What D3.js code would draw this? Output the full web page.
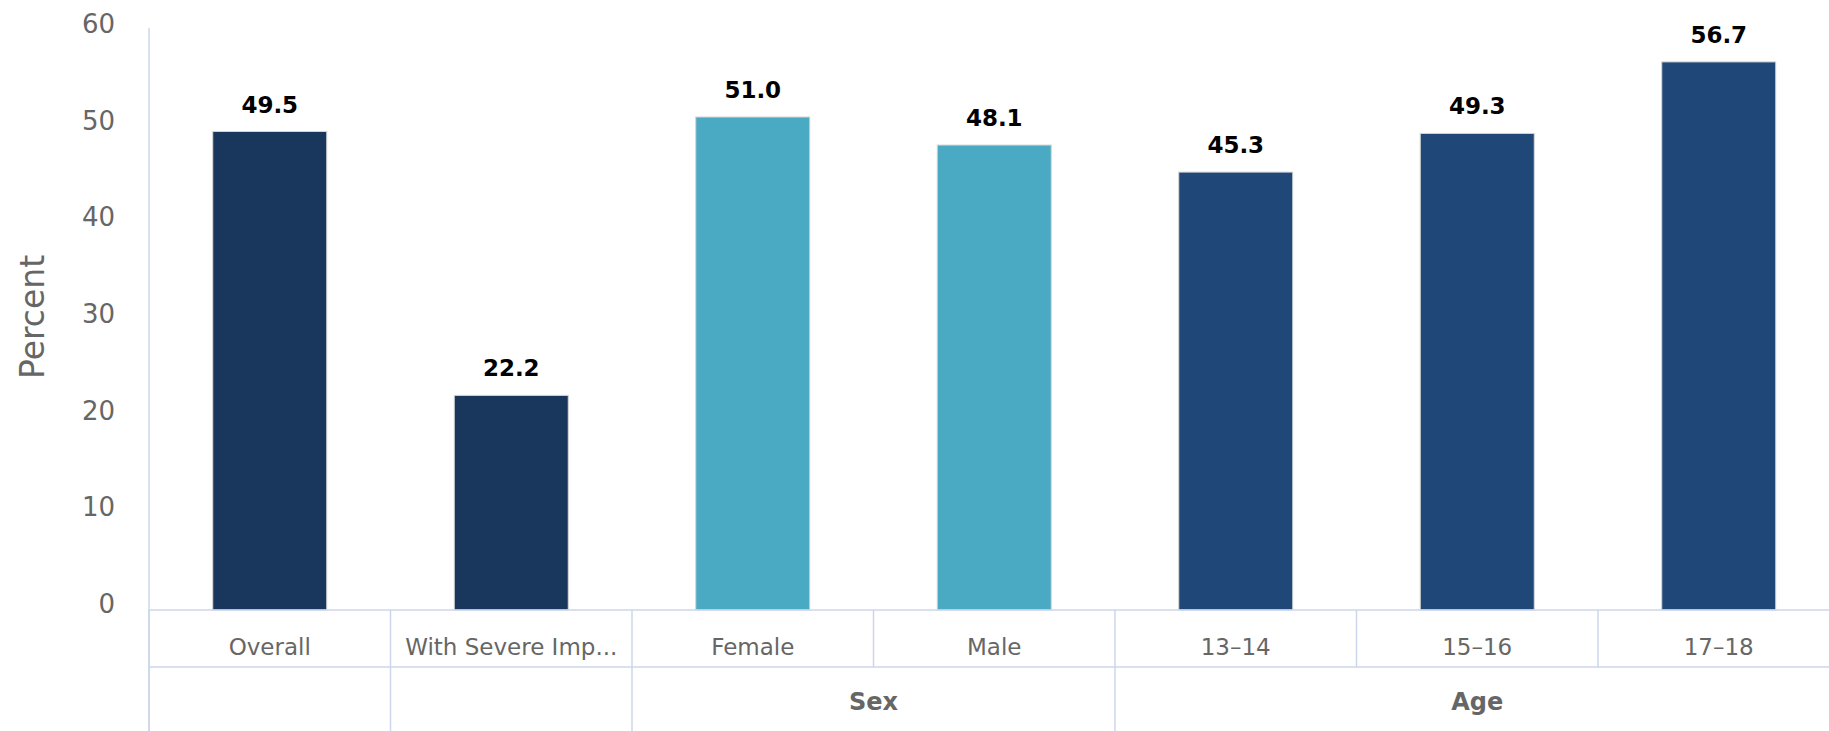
<!DOCTYPE html>
<html>
<head>
<meta charset="utf-8">
<script src="https://cdn.jsdelivr.net/npm/d3@7"></script>
<style>
  body { margin: 0; background: #fff; overflow: hidden; }
  text { font-family: "DejaVu Sans", sans-serif; }
</style>
</head>
<body>
<div class="chart"></div>
<script>
var width = 1829;
var height = 731;

var categories = ["Overall", "With Severe Imp...", "Female", "Male", "13\u201314", "15\u201316", "17\u201318"];
var values = [49.5, 22.2, 51.0, 48.1, 45.3, 49.3, 56.7];
var groupOf = ["", "", "Sex", "Sex", "Age", "Age", "Age"];
var groups = [
	{ name: "", from: 0, to: 0 },
	{ name: "", from: 1, to: 1 },
	{ name: "Sex", from: 2, to: 3 },
	{ name: "Age", from: 4, to: 6 }
];
var yTicks = [0, 10, 20, 30, 40, 50, 60];
var colors = { "": "#19375c", "Sex": "#4aaac4", "Age": "#1f4878" };

var left = 149;
var step = 241.5;
var baseY = 610;
var rowY = 667;
var gridColor = "#ccd6eb";

var svg = d3.select(".chart").append("svg").attr("width", width).attr("height", height);

var x = d3.scaleBand()
	.domain(d3.range(categories.length))
	.range([left, left + step * categories.length])
	.padding(0);

var y = d3.scaleLinear().domain([0, 60]).range([baseY, 30]);

var barWidth = x.bandwidth() * 0.472;

// y axis line and tick labels
svg.append("line")
	.attr("x1", left).attr("x2", left)
	.attr("y1", y(60) - 2).attr("y2", height)
	.attr("stroke", gridColor).attr("stroke-width", 1.5);

svg.selectAll(".ytick").data(yTicks).enter().append("text")
	.attr("class", "ytick")
	.attr("x", 115)
	.attr("y", function(d) { return y(d) + 3; })
	.attr("text-anchor", "end")
	.attr("font-size", 26)
	.attr("fill", "#666")
	.text(function(d) { return d; });

svg.append("text")
	.attr("transform", "translate(44,317) rotate(-90)")
	.attr("text-anchor", "middle")
	.attr("font-size", 33)
	.attr("fill", "#666")
	.text("Percent");

// bars
svg.selectAll(".bar").data(values).enter().append("rect")
	.attr("class", "bar")
	.attr("x", function(d, i) { return x(i) + (x.bandwidth() - barWidth) / 2; })
	.attr("y", function(d) { return y(d); })
	.attr("width", barWidth)
	.attr("height", function(d) { return y(0) - y(d); })
	.attr("fill", function(d, i) { return colors[groupOf[i]]; })
	.attr("stroke", "#d4d4d4")
	.attr("stroke-width", 1);

// data labels
svg.selectAll(".label").data(values).enter().append("text")
	.attr("class", "label")
	.attr("x", function(d, i) { return x(i) + x.bandwidth() / 2; })
	.attr("y", function(d) { return y(d) - 19; })
	.attr("text-anchor", "middle")
	.attr("font-size", 23)
	.attr("font-weight", "bold")
	.attr("fill", "#000")
	.text(function(d) { return d.toFixed(1); });

// category grid: horizontal lines
svg.append("line")
	.attr("x1", left).attr("x2", width)
	.attr("y1", baseY).attr("y2", baseY)
	.attr("stroke", gridColor).attr("stroke-width", 1.5);
svg.append("line")
	.attr("x1", left).attr("x2", width)
	.attr("y1", rowY).attr("y2", rowY)
	.attr("stroke", gridColor).attr("stroke-width", 1.5);

// first row cell borders
svg.selectAll(".cellline").data(d3.range(categories.length + 1)).enter().append("line")
	.attr("class", "cellline")
	.attr("x1", function(i) { return left + i * x.step(); })
	.attr("x2", function(i) { return left + i * x.step(); })
	.attr("y1", baseY).attr("y2", rowY)
	.attr("stroke", gridColor).attr("stroke-width", 1.5);

svg.selectAll(".cat").data(categories).enter().append("text")
	.attr("class", "cat")
	.attr("x", function(d, i) { return x(i) + x.bandwidth() / 2; })
	.attr("y", 655)
	.attr("text-anchor", "middle")
	.attr("font-size", 23)
	.attr("fill", "#666")
	.text(function(d) { return d; });

// group row
svg.selectAll(".groupline").data(groups.concat([{ from: categories.length }])).enter().append("line")
	.attr("class", "groupline")
	.attr("x1", function(g) { return left + g.from * x.step(); })
	.attr("x2", function(g) { return left + g.from * x.step(); })
	.attr("y1", rowY).attr("y2", height)
	.attr("stroke", gridColor).attr("stroke-width", 1.5);

svg.selectAll(".group").data(groups).enter().append("text")
	.attr("class", "group")
	.attr("x", function(g) { return left + (g.from + g.to + 1) / 2 * x.step(); })
	.attr("y", 710)
	.attr("text-anchor", "middle")
	.attr("font-size", 24)
	.attr("font-weight", "bold")
	.attr("fill", "#666")
	.text(function(g) { return g.name; });
</script>
</body>
</html>
